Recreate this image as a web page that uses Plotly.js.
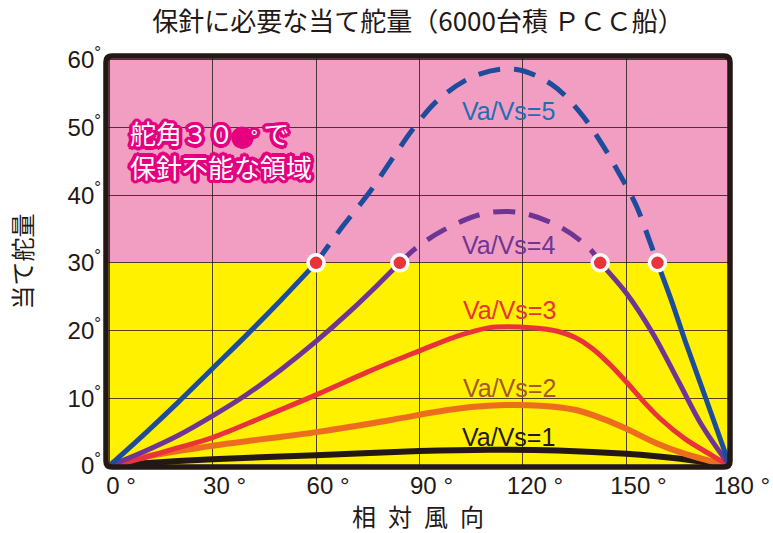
<!DOCTYPE html>
<html>
<head>
<meta charset="utf-8">
<script src="https://cdn.plot.ly/plotly-3.0.1.min.js"></script>
<style>html,body{margin:0;padding:0;background:#fff;}#chart{width:773px;height:533px;}</style>
</head>
<body>
<div id="chart"></div>
<script>
// ---- data ----
const seriesNames = ['Va/Vs=1', 'Va/Vs=2', 'Va/Vs=3', 'Va/Vs=4', 'Va/Vs=5'];

const vs1X = [0, 10, 30, 60, 90, 110, 130, 150, 165, 180];
const vs1Y = [0, 0.4, 1.0, 1.6, 2.2, 2.4, 2.3, 1.8, 1.1, 0];

const vs2X = [0, 5, 10, 20, 30, 45, 60, 75, 85, 95, 105, 115, 125, 135, 143, 150, 159, 167, 180];
const vs2Y = [0, 0.7, 1.3, 2.2, 3.0, 4.0, 5.0, 6.2, 7.1, 8.0, 8.7, 9.0, 8.9, 8.3, 7.0, 5.5, 3.3, 1.8, 0];

const vs3X = [0, 5, 10, 20, 30, 45, 60, 75, 84, 90, 100, 110, 120, 125, 130, 135, 140, 145, 150, 155, 160, 167, 175, 180];
const vs3Y = [0, 0.5, 1.2, 2.7, 4.2, 7.3, 10.5, 13.9, 15.8, 17.0, 19.0, 20.4, 20.5, 20.3, 19.9, 19.0, 17.4, 15.1, 12.4, 9.5, 6.9, 4.0, 1.5, 0];

const vs4X = [0, 10, 20, 30, 40, 50, 60, 70, 78, 84.3, 89, 96.8, 107.4, 115.2, 121.9, 131.5, 139.3, 142.4, 150, 157.6, 165.3, 172, 180];
const vs4Y = [0, 2.1, 4.5, 7.4, 10.6, 14.3, 18.4, 22.9, 26.8, 30, 32.2, 34.8, 37.1, 37.6, 37.1, 35.1, 32.1, 30, 25.5, 19.6, 12.3, 5.9, 0];

const vs5X = [0, 10, 20, 30, 40, 50, 60, 67.9, 75.6, 82.8, 88.6, 95.9, 106.5, 117.6, 128.2, 136.4, 142.6, 147.9, 152.8, 156.6, 159, 163, 167, 173, 180];
const vs5Y = [0, 4.6, 9.4, 14.4, 19.4, 24.6, 30, 35.5, 40.5, 45.9, 50.1, 54.3, 57.7, 58.6, 56.4, 52.3, 47.8, 43.2, 38.5, 33.4, 30, 24.5, 18.5, 10, 0];

const limitAngle = 30; // rudder limit

const xTicks = [0, 30, 60, 90, 120, 150, 180];
const xTickText = ['0 °', '30 °', '60 °', '90 °', '120 °', '150 °', '180 °'];
const yTicks = [0, 10, 20, 30, 40, 50, 60];
const yTickText = ['0<sup>°</sup>', '10<sup>°</sup>', '20<sup>°</sup>', '30<sup>°</sup>', '40<sup>°</sup>', '50<sup>°</sup>', '60<sup>°</sup>'];

// ---- styles ----
const lineColors = ['#231815', '#ed6d1f', '#e8333b', '#6f3594', '#1d4c9c'];
const lineWidths = [6, 6, 5, 5, 5];
const labelColors = ['#231815', '#a3592b', '#e8333b', '#6f3594', '#1f6db5'];
const labelPos = [[115.8, 4.3], [116.2, 11.5], [116, 23.0], [115.8, 32.6], [115.8, 52.4]];

const allX = [vs1X, vs2X, vs3X, vs4X, vs5X];
const allY = [vs1Y, vs2Y, vs3Y, vs4Y, vs5Y];

function splitSegments(xs, ys) {
  const segs = [];
  let cur = {x: [], y: [], dashed: ys[1] > limitAngle};
  for (let i = 0; i < xs.length; i++) {
    cur.x.push(xs[i]); cur.y.push(ys[i]);
    if (ys[i] === limitAngle && i > 0 && i < xs.length - 1) {
      segs.push(cur);
      cur = {x: [xs[i]], y: [ys[i]], dashed: ys[i + 1] > limitAngle};
    }
  }
  segs.push(cur);
  return segs;
}

const traces = [];
const dotX = [], dotY = [];
for (let s = 0; s < allX.length; s++) {
  const segs = splitSegments(allX[s], allY[s]);
  segs.forEach(seg => {
    traces.push({
      type: 'scatter', mode: 'lines', x: seg.x, y: seg.y,
      name: seriesNames[s], showlegend: false, hoverinfo: 'skip',
      line: {color: lineColors[s], width: lineWidths[s], shape: 'spline', smoothing: 1.0,
             dash: seg.dashed ? '22px,14px' : 'solid'}
    });
  });
  allY[s].forEach((v, i) => {
    if (v === limitAngle) { dotX.push(allX[s][i]); dotY.push(v); }
  });
}
traces.push({
  type: 'scatter', mode: 'markers', x: dotX, y: dotY, showlegend: false, hoverinfo: 'skip',
  marker: {color: '#e8333b', size: 16, line: {color: '#ffffff', width: 3.5}}
});

const halo = (() => {
  const c = '#e4007f'; const parts = [];
  for (let a = 0; a < 16; a++) {
    const t = a * Math.PI / 8;
    parts.push((3.5 * Math.cos(t)).toFixed(1) + 'px ' + (3.5 * Math.sin(t)).toFixed(1) + 'px 0 ' + c);
  }
  for (let a = 0; a < 8; a++) {
    const t = a * Math.PI / 4 + Math.PI / 8;
    parts.push((2 * Math.cos(t)).toFixed(1) + 'px ' + (2 * Math.sin(t)).toFixed(1) + 'px 0 ' + c);
  }
  return parts.join(', ');
})();

const annotations = seriesNames.map((n, i) => ({
  x: labelPos[i][0], y: labelPos[i][1], xref: 'x', yref: 'y', text: n, showarrow: false,
  xanchor: 'center', yanchor: 'middle',
  font: {family: 'Liberation Sans, Arial, sans-serif', size: 25, color: labelColors[i]}
}));
annotations.push({
  x: 5.6, y: 46.8, xref: 'x', yref: 'y', showarrow: false, xanchor: 'left', yanchor: 'middle', align: 'left',
  text: '舵角３０<span style="color:#e4007f;font-size:17px">●</span><span style="font-size:18px">°</span> で<br>保針不能な領域',
  font: {family: 'Noto Sans CJK JP, sans-serif', size: 26, color: '#ffffff', shadow: halo}
});

const rx = 6 / 625, ry = 6 / 411.5;
const borderPath = `M ${rx},0 L ${1 - rx},0 Q 1,0 1,${ry} L 1,${1 - ry} Q 1,1 ${1 - rx},1 L ${rx},1 Q 0,1 0,${1 - ry} L 0,${ry} Q 0,0 ${rx},0 Z`;

const shapes = [
  {type: 'rect', xref: 'paper', yref: 'y', x0: 0, x1: 1, y0: limitAngle, y1: 60.55, fillcolor: '#f19ec2', line: {width: 0}, layer: 'below'},
  {type: 'rect', xref: 'paper', yref: 'y', x0: 0, x1: 1, y0: -0.15, y1: limitAngle, fillcolor: '#fff100', line: {width: 0}, layer: 'below'},
  {type: 'path', xref: 'paper', yref: 'paper', path: borderPath, line: {color: '#231815', width: 5.5}, layer: 'above'}
];

const tickFont = {family: 'Liberation Sans, Arial, sans-serif', size: 24, color: '#231815'};
const layout = {
  width: 773, height: 533,
  margin: {l: 105.5, r: 42.5, t: 55.5, b: 66},
  paper_bgcolor: '#ffffff', plot_bgcolor: '#ffffff',
  showlegend: false,
  title: {text: '保針に必要な当て舵量（6000台積 ＰＣＣ船）', x: 0.5, xref: 'paper', xanchor: 'center',
          y: 1 - 22 / 533, yref: 'container', yanchor: 'middle',
          font: {family: 'Noto Sans CJK JP, sans-serif', size: 26, color: '#231815'}},
  xaxis: {range: [-0.9, 180.03], tickvals: xTicks, ticktext: xTickText, tickfont: tickFont,
          showgrid: true, gridcolor: 'rgba(35,24,21,0.8)', gridwidth: 1, zeroline: false, showline: false,
          ticks: '', ticklabelshift: 12, ticklabelstandoff: 2,
          title: {text: '相\u2002対\u2002風\u2002向', standoff: 12,
                  font: {family: 'Noto Sans CJK JP, sans-serif', size: 24, color: '#231815'}}},
  yaxis: {range: [-0.15, 60.55], tickvals: yTicks, ticktext: yTickText, tickfont: tickFont,
          showgrid: true, gridcolor: 'rgba(35,24,21,0.8)', gridwidth: 1, zeroline: false, showline: false,
          ticks: '', ticklabelstandoff: 4,
          title: {text: '当て舵量', standoff: 28,
                  font: {family: 'Noto Sans CJK JP, sans-serif', size: 24, color: '#231815'}}},
  shapes: shapes,
  annotations: annotations
};

Plotly.newPlot('chart', traces, layout, {displayModeBar: false, staticPlot: true});
</script>
</body>
</html>
